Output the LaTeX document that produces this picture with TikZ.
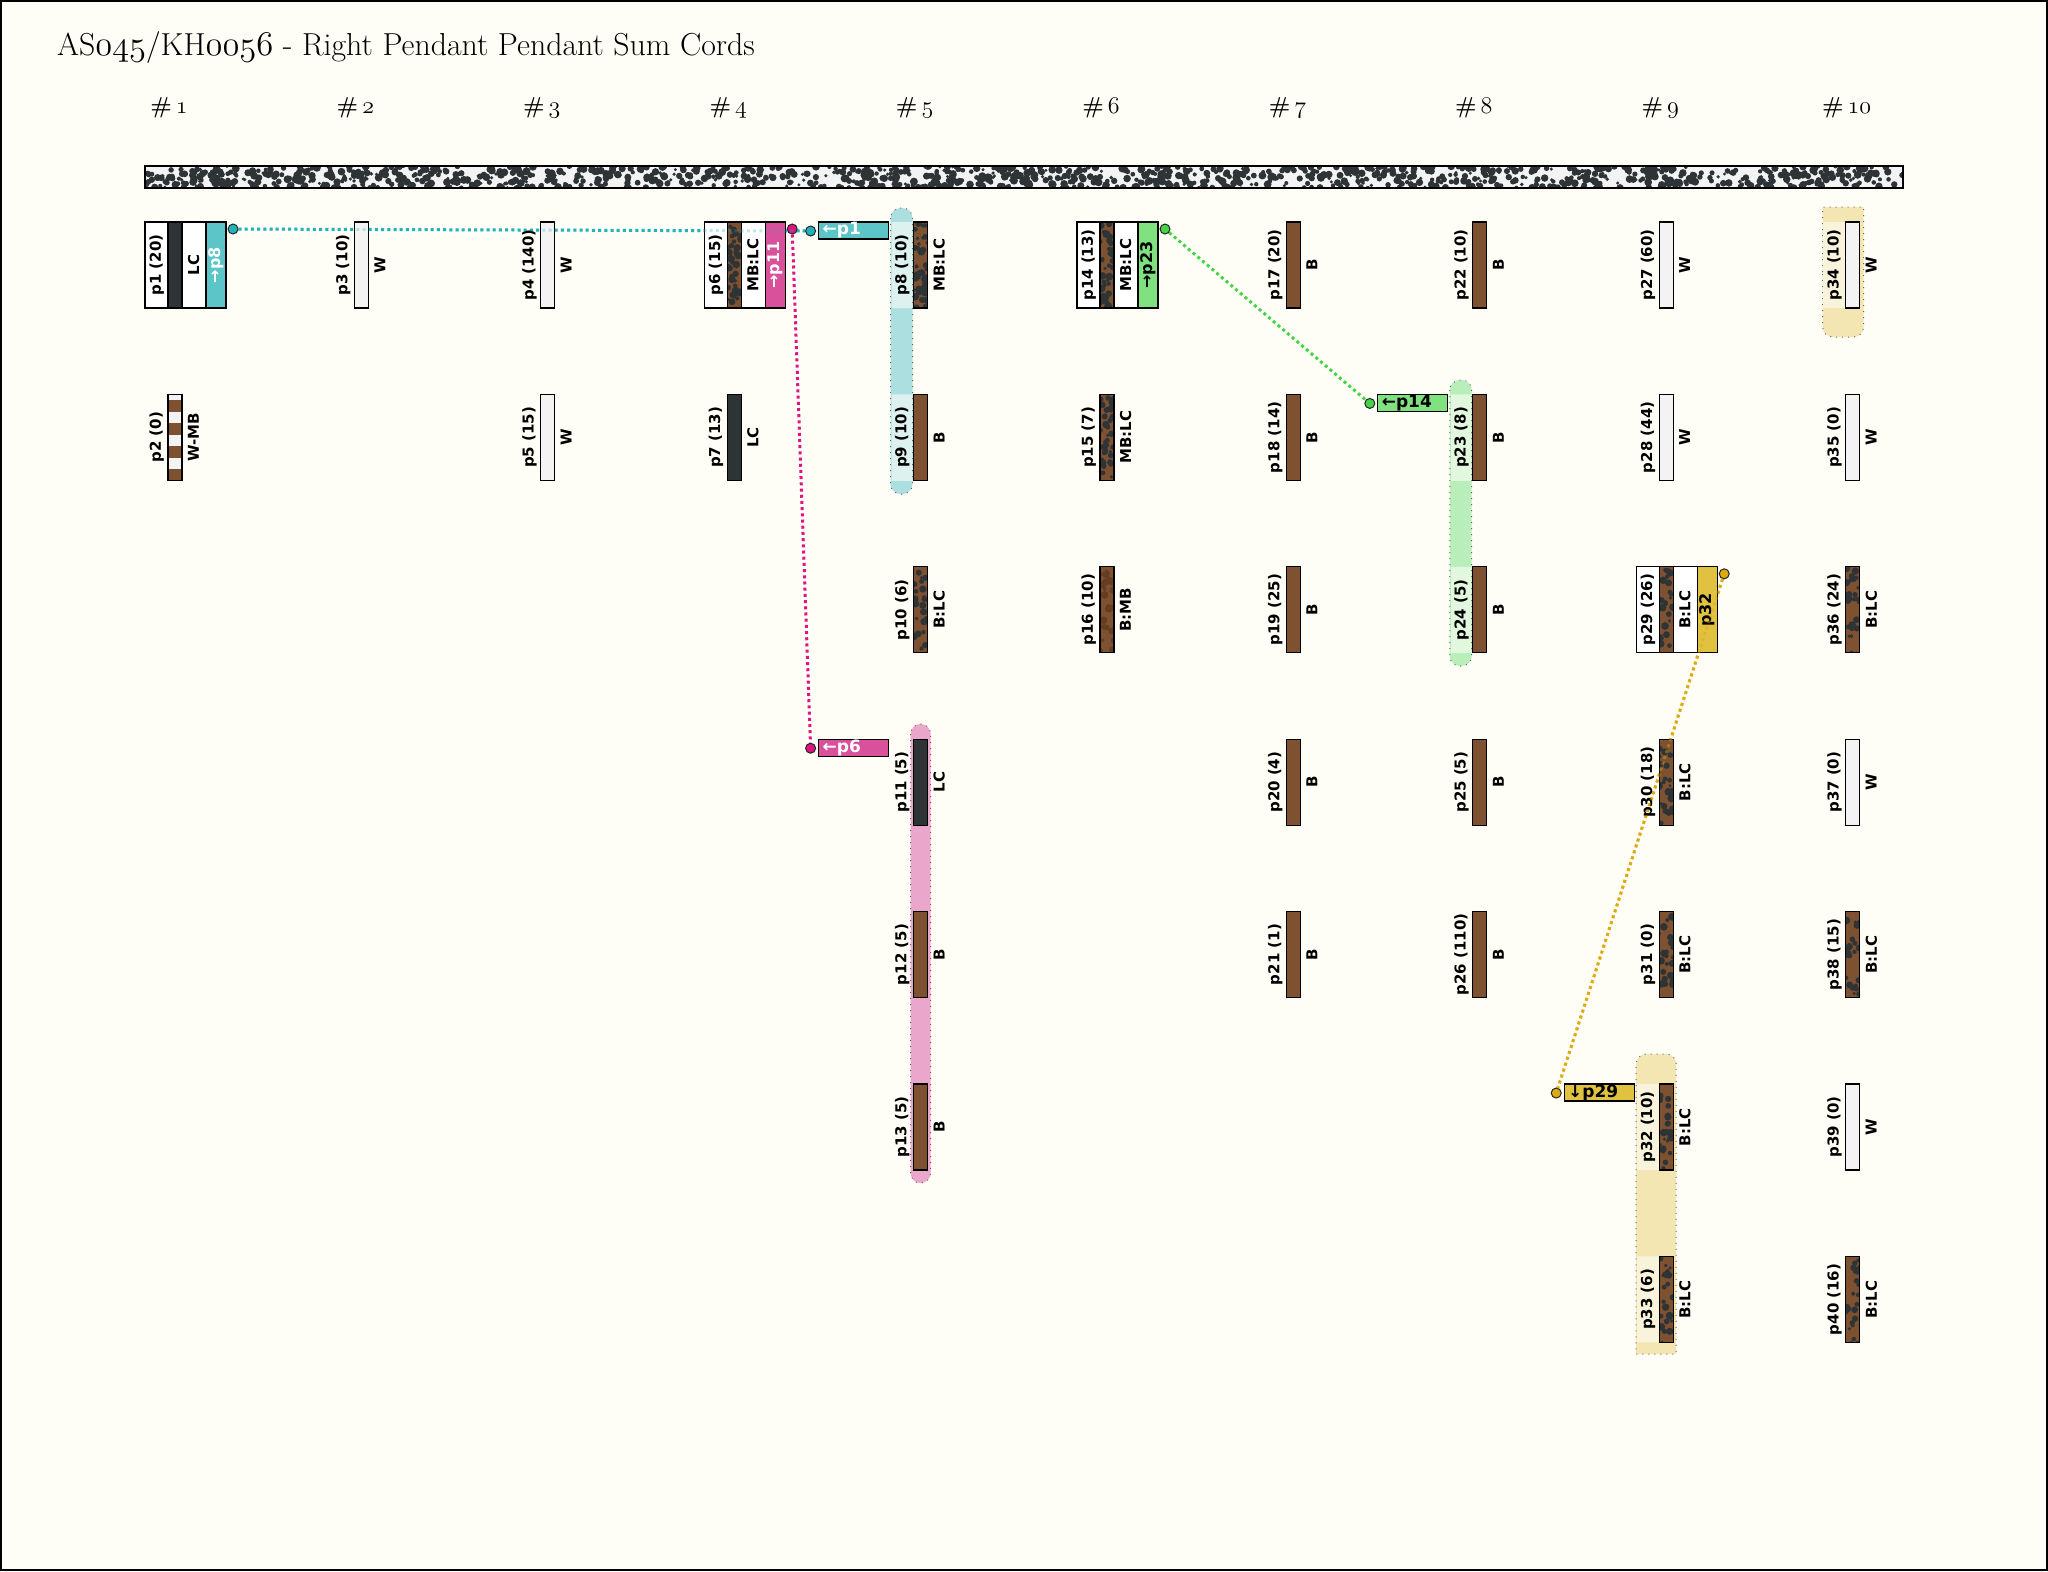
\documentclass[tikz,border=0pt]{standalone}
\usepackage{fontspec}
\usetikzlibrary{positioning,calc}
\newfontfamily\lblfont{DejaVu Sans}
\newcommand{\osn}[1]{{\usefont{OML}{cmm}{m}{it}#1}}

\definecolor{paper}{RGB}{255,254,246}
\definecolor{wcol}{RGB}{243,243,243}
\definecolor{bcol}{RGB}{126,82,48}
\definecolor{lccol}{RGB}{46,51,54}
\definecolor{mbspot}{RGB}{100,62,35}
\definecolor{cyantag}{RGB}{91,197,200}
\definecolor{cyanline}{RGB}{32,180,186}
\definecolor{cyanhl}{RGB}{172,224,224}
\definecolor{cyanlt}{RGB}{221,242,238}
\definecolor{magtag}{RGB}{217,81,155}
\definecolor{magline}{RGB}{222,20,128}
\definecolor{pinkhl}{RGB}{235,166,203}
\definecolor{greentag}{RGB}{127,226,127}
\definecolor{greenline}{RGB}{70,212,70}
\definecolor{greenhl}{RGB}{185,238,187}
\definecolor{greenlt}{RGB}{225,247,222}
\definecolor{goldtag}{RGB}{224,194,64}
\definecolor{goldline}{RGB}{221,170,16}
\definecolor{goldhl}{RGB}{243,230,178}
\definecolor{goldlt}{RGB}{250,243,220}

\pgfdeclarelayer{back}
\pgfdeclarelayer{links}
\pgfsetlayers{back,links,main}

\tikzset{spots/.style n args={4}{path picture={
    \foreach \i in {1,...,#2}
      \fill[#1] ([xshift={rnd*#3}, yshift={rnd*#4}]path picture bounding box.south west)
        circle [radius={0.8pt+rnd*1.2pt}];}}}
\tikzstyle{cord} = [rectangle, draw=black, line width=0.6pt, inner sep=0pt,
    minimum width=7pt, minimum height=43pt]
\tikzstyle{wcord} = [cord, fill=wcol]
\tikzstyle{bcord} = [cord, fill=bcol]
\tikzstyle{lccord} = [cord, fill=lccol]
\tikzstyle{blccord} = [cord, fill=bcol, spots={lccol}{24}{7pt}{43pt}]
\tikzstyle{mblccord} = [cord, fill=bcol, spots={lccol}{38}{7pt}{43pt}]
\tikzstyle{bmbcord} = [cord, fill=bcol, spots={mbspot}{26}{7pt}{43pt}]
\tikzstyle{wmbcord} = [cord, fill=wcol, path picture={
    \foreach \k in {0,1,2,3}
      \fill[bcol] ([yshift={-3pt-\k*11.5pt}]path picture bounding box.north west)
        rectangle ([yshift={-9pt-\k*11.5pt}]path picture bounding box.north east);}]
\tikzstyle{maincord} = [rectangle, draw=black, line width=1.2pt, fill=wcol, inner sep=0pt,
    minimum width=879pt, minimum height=11pt, spots={lccol}{1300}{879pt}{11pt}]
\tikzstyle{lbl} = [rotate=90, inner sep=0pt, font=\lblfont\fontsize{7.5}{9}\selectfont\bfseries]
\tikzstyle{hdr} = [anchor=base, font=\fontsize{11.5}{13}\selectfont\bfseries]
\tikzstyle{sumbox} = [rectangle, draw=black, line width=0.6pt, fill=white, inner sep=0pt,
    minimum width=40.5pt, minimum height=43pt]
\tikzstyle{stag} = [rectangle, draw=black, line width=0.6pt, inner sep=0pt, rotate=90,
    minimum width=43pt, minimum height=10pt, font=\lblfont\fontsize{8}{9}\selectfont\bfseries]
\tikzstyle{rtag} = [rectangle, draw=black, line width=0.6pt, inner xsep=2pt, inner ysep=0pt,
    minimum height=8.5pt, text width=31pt, align=left,
    font=\lblfont\fontsize{8.5}{9}\selectfont\bfseries]
\tikzstyle{dot} = [circle, draw=black!85, line width=0.5pt, inner sep=0pt, minimum size=5pt]
\tikzstyle{link} = [line width=1.5pt, dash pattern=on 1.5pt off 1.6pt]
\tikzstyle{hl} = [draw=black!60, line width=0.5pt, dash pattern=on 0.5pt off 2.5pt]

% cord node with its two rotated labels
\newcommand{\pendant}[6]{%
    \node[#4] (#1) at (#2,#3) {};
    \node[lbl, anchor=south] (#1l) at ([xshift=-1.5pt]#1.west) {#5};
    \node[lbl, anchor=north] (#1r) at ([xshift=2.5pt]#1.east) {#6};}

\begin{document}
\begin{tikzpicture}[x=0.5pt, y=-0.5pt]
    \pgfmathsetseed{3}

    % Page and frame
    \useasboundingbox (0,0) rectangle (2048,1571);
    \begin{pgfonlayer}{back}
    \fill[paper] (0,0) rectangle (2048,1571);
    \draw[line width=1.2pt] (1.2,1.2) rectangle (2046.8,1569.8);
    \end{pgfonlayer}

    % Title and cord numbers
    \node[anchor=base west, font=\fontsize{15.9}{19}\selectfont] (title) at (50,55)
        {AS\osn{045}/KH\osn{0056} - Right Pendant Pendant Sum Cords};
    \foreach \k in {1,...,10}
        \node[hdr] (h\k) at ({169+(\k-1)*186.4},113) {\#\kern2pt\osn{\k}};

    % Primary cord
    \node[maincord] (main) at (1024,177) {};

    % Sum groups
    \draw[hl, fill=cyanhl, rounded corners=5pt] (890.6,208) rectangle (912.5,494);
    \fill[cyanlt] (891.6,222) rectangle (911.8,308) (891.6,394.4) rectangle (911.8,480.8);
    \draw[hl, fill=greenhl, rounded corners=5pt] (1449.8,380) rectangle (1471.7,666);
    \fill[greenlt] (1450.8,394.4) rectangle (1471,480.8) (1450.8,566.8) rectangle (1471,653.2);
    \draw[hl, fill=pinkhl, rounded corners=5pt] (910.6,724) rectangle (930.6,1183);
    \draw[hl, fill=goldhl] (1822.6,272) -- (1822.6,207) -- (1863.6,207)
        [rounded corners=5pt] -- (1863.6,337) -- (1822.6,337) [sharp corners] -- cycle;
    \fill[goldlt] (1823.4,222) rectangle (1845.6,308);
    \draw[hl, fill=goldhl] (1636.2,1200) [rounded corners=5pt] -- (1636.2,1054) -- (1676.2,1054)
        [sharp corners] -- (1676.2,1354) -- (1636.2,1354) -- cycle;
    \fill[goldlt] (1637,1084) rectangle (1659.2,1170) (1637,1256.4) rectangle (1659.2,1342.4);

    % Place pendants
    \node[sumbox] (p1b) at (185.5,265) {};
    \pendant{p1}{175}{265}{lccord}{p1 (20)}{LC}
    \node[stag, fill=cyantag, text=white] (p1t) at (216,265) {→p8};
    \pendant{p2}{175}{437.4}{wmbcord}{p2 (0)}{W-MB}
    \pendant{p3}{361.4}{265}{wcord}{p3 (10)}{W}
    \pendant{p4}{547.8}{265}{wcord}{p4 (140)}{W}
    \pendant{p5}{547.8}{437.4}{wcord}{p5 (15)}{W}
    \node[sumbox] (p6b) at (744.7,265) {};
    \pendant{p6}{734.2}{265}{mblccord}{p6 (15)}{MB:LC}
    \node[stag, fill=magtag, text=white] (p6t) at (775.2,265) {→p11};
    \pendant{p7}{734.2}{437.4}{lccord}{p7 (13)}{LC}
    \pendant{p8}{920.6}{265}{mblccord}{p8 (10)}{MB:LC}
    \node[rtag, fill=cyantag, text=white] (p8t) at (853.6,230.5) {←p1};
    \pendant{p9}{920.6}{437.4}{bcord}{p9 (10)}{B}
    \pendant{p10}{920.6}{609.8}{blccord}{p10 (6)}{B:LC}
    \pendant{p11}{920.6}{782.2}{lccord}{p11 (5)}{LC}
    \node[rtag, fill=magtag, text=white] (p11t) at (853.6,747.7) {←p6};
    \pendant{p12}{920.6}{954.6}{bcord}{p12 (5)}{B}
    \pendant{p13}{920.6}{1127}{bcord}{p13 (5)}{B}
    \node[sumbox] (p14b) at (1117.5,265) {};
    \pendant{p14}{1107}{265}{mblccord}{p14 (13)}{MB:LC}
    \node[stag, fill=greentag] (p14t) at (1148,265) {→p23};
    \pendant{p15}{1107}{437.4}{mblccord}{p15 (7)}{MB:LC}
    \pendant{p16}{1107}{609.8}{bmbcord}{p16 (10)}{B:MB}
    \pendant{p17}{1293.4}{265}{bcord}{p17 (20)}{B}
    \pendant{p18}{1293.4}{437.4}{bcord}{p18 (14)}{B}
    \pendant{p19}{1293.4}{609.8}{bcord}{p19 (25)}{B}
    \pendant{p20}{1293.4}{782.2}{bcord}{p20 (4)}{B}
    \pendant{p21}{1293.4}{954.6}{bcord}{p21 (1)}{B}
    \pendant{p22}{1479.8}{265}{bcord}{p22 (10)}{B}
    \pendant{p23}{1479.8}{437.4}{bcord}{p23 (8)}{B}
    \node[rtag, fill=greentag] (p23t) at (1412.8,402.9) {←p14};
    \pendant{p24}{1479.8}{609.8}{bcord}{p24 (5)}{B}
    \pendant{p25}{1479.8}{782.2}{bcord}{p25 (5)}{B}
    \pendant{p26}{1479.8}{954.6}{bcord}{p26 (110)}{B}
    \pendant{p27}{1666.2}{265}{wcord}{p27 (60)}{W}
    \pendant{p28}{1666.2}{437.4}{wcord}{p28 (44)}{W}
    \node[sumbox] (p29b) at (1676.7,609.8) {};
    \pendant{p29}{1666.2}{609.8}{blccord}{p29 (26)}{B:LC}
    \node[stag, fill=goldtag] (p29t) at (1707.2,609.8) {p32};
    \pendant{p30}{1666.2}{782.2}{blccord}{p30 (18)}{B:LC}
    \pendant{p31}{1666.2}{954.6}{blccord}{p31 (0)}{B:LC}
    \pendant{p32}{1666.2}{1127}{blccord}{p32 (10)}{B:LC}
    \node[rtag, fill=goldtag] (p32t) at (1599.2,1092.5) {↓p29};
    \pendant{p33}{1666.2}{1299.4}{blccord}{p33 (6)}{B:LC}
    \pendant{p34}{1852.6}{265}{wcord}{p34 (10)}{W}
    \pendant{p35}{1852.6}{437.4}{wcord}{p35 (0)}{W}
    \pendant{p36}{1852.6}{609.8}{blccord}{p36 (24)}{B:LC}
    \pendant{p37}{1852.6}{782.2}{wcord}{p37 (0)}{W}
    \pendant{p38}{1852.6}{954.6}{blccord}{p38 (15)}{B:LC}
    \pendant{p39}{1852.6}{1127}{wcord}{p39 (0)}{W}
    \pendant{p40}{1852.6}{1299.4}{blccord}{p40 (16)}{B:LC}

    % Link ends
    \node[dot, fill=cyanline] (d1) at (233,229) {};
    \node[dot, fill=magline] (d6) at (792.2,229) {};
    \node[dot, fill=greenline] (d14) at (1165,229) {};
    \node[dot, fill=goldline] (d29) at (1724.2,573.8) {};
    \node[dot, fill=cyanline] (d8) at (810.6,231) {};
    \node[dot, fill=magline] (d11) at (810.6,748.2) {};
    \node[dot, fill=greenline] (d23) at (1369.8,403.4) {};
    \node[dot, fill=goldline] (d32) at (1556.2,1093) {};

    % Draw links
    \begin{pgfonlayer}{links}
    \draw[link, cyanline] (d1) -- (d8);
    \draw[link, magline] (d6) -- (d11);
    \draw[link, greenline] (d14) -- (d23);
    \draw[link, goldline] (d29) -- (d32);
    \end{pgfonlayer}
    \draw[link, cyanline, opacity=0.3] (d1) -- (d8);
    \draw[link, goldline, opacity=0.4] (d29) -- (d32);

\end{tikzpicture}
\end{document}
